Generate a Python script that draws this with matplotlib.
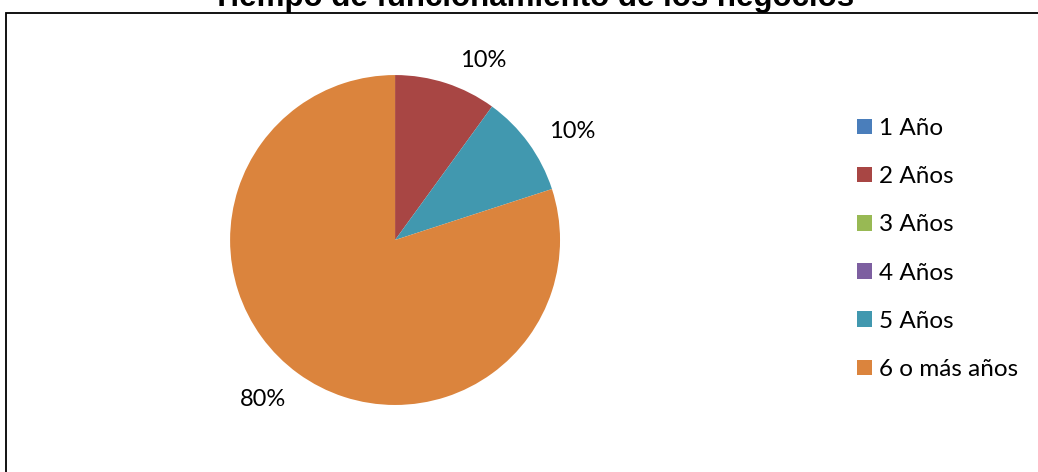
import numpy as np
import matplotlib.pyplot as plt
from matplotlib.patches import Rectangle

# años de funcionamiento
categorias = ['1 Año', '2 Años', '3 Años', '4 Años', '5 Años', '6 o más años']
porcentajes = [0, 10, 0, 0, 10, 80]
colores = ['#4A7EBB', '#A84644', '#98B954', '#7D5FA0', '#4198AF', '#DB843D']

titulo = 'Tiempo de funcionamiento de los negocios'

plt.rcParams['font.family'] = ['Lato', 'DejaVu Sans']

fig = plt.figure(figsize=(10.38, 4.72), dpi=100)

# marco del grafico (se sale por la derecha y abajo)
fig.patches.append(Rectangle((6/1038, -0.2), 1.2, 1.2 - 13/472,
                             transform=fig.transFigure, fill=False,
                             edgecolor='black', linewidth=1.3))

ax = fig.add_axes([0.2216, 0.142, 0.318, 0.699])

wedges, _ = ax.pie(porcentajes, colors=colores, startangle=90,
                   counterclock=False, radius=1,
                   wedgeprops=dict(linewidth=0))
ax.set_xlim(-1, 1)
ax.set_ylim(-1, 1)
ax.set_aspect('equal')

# etiquetas por fuera, con la esquina del texto pegada al radio medio
for w, p in zip(wedges, porcentajes):
    if p == 0:
        continue
    ang = np.radians((w.theta1 + w.theta2) / 2)
    if np.sin(ang) > 0:
        ang -= np.radians(2.5)
    x, y = 1.12 * np.cos(ang), 1.12 * np.sin(ang)
    ha = 'left' if x > 0 else 'right'
    va = 'baseline' if y > 0 else 'top'
    ax.text(x, y, f'{p}%', ha=ha, va=va, fontsize=17, color='black')

fig.legend(wedges, categorias, loc='center left',
           bbox_to_anchor=(847/1038, (472-249)/472), frameon=False,
           fontsize=17.5, handlelength=0.62, handleheight=0.62,
           handletextpad=0.3, labelspacing=1.12, borderaxespad=0)

fig.text(533/1038, 1 - 6/472, titulo, ha='center', va='baseline',
         fontsize=22.5, fontweight='bold', family=['Liberation Sans', 'DejaVu Sans'])

fig.savefig('out.png', dpi=100)
